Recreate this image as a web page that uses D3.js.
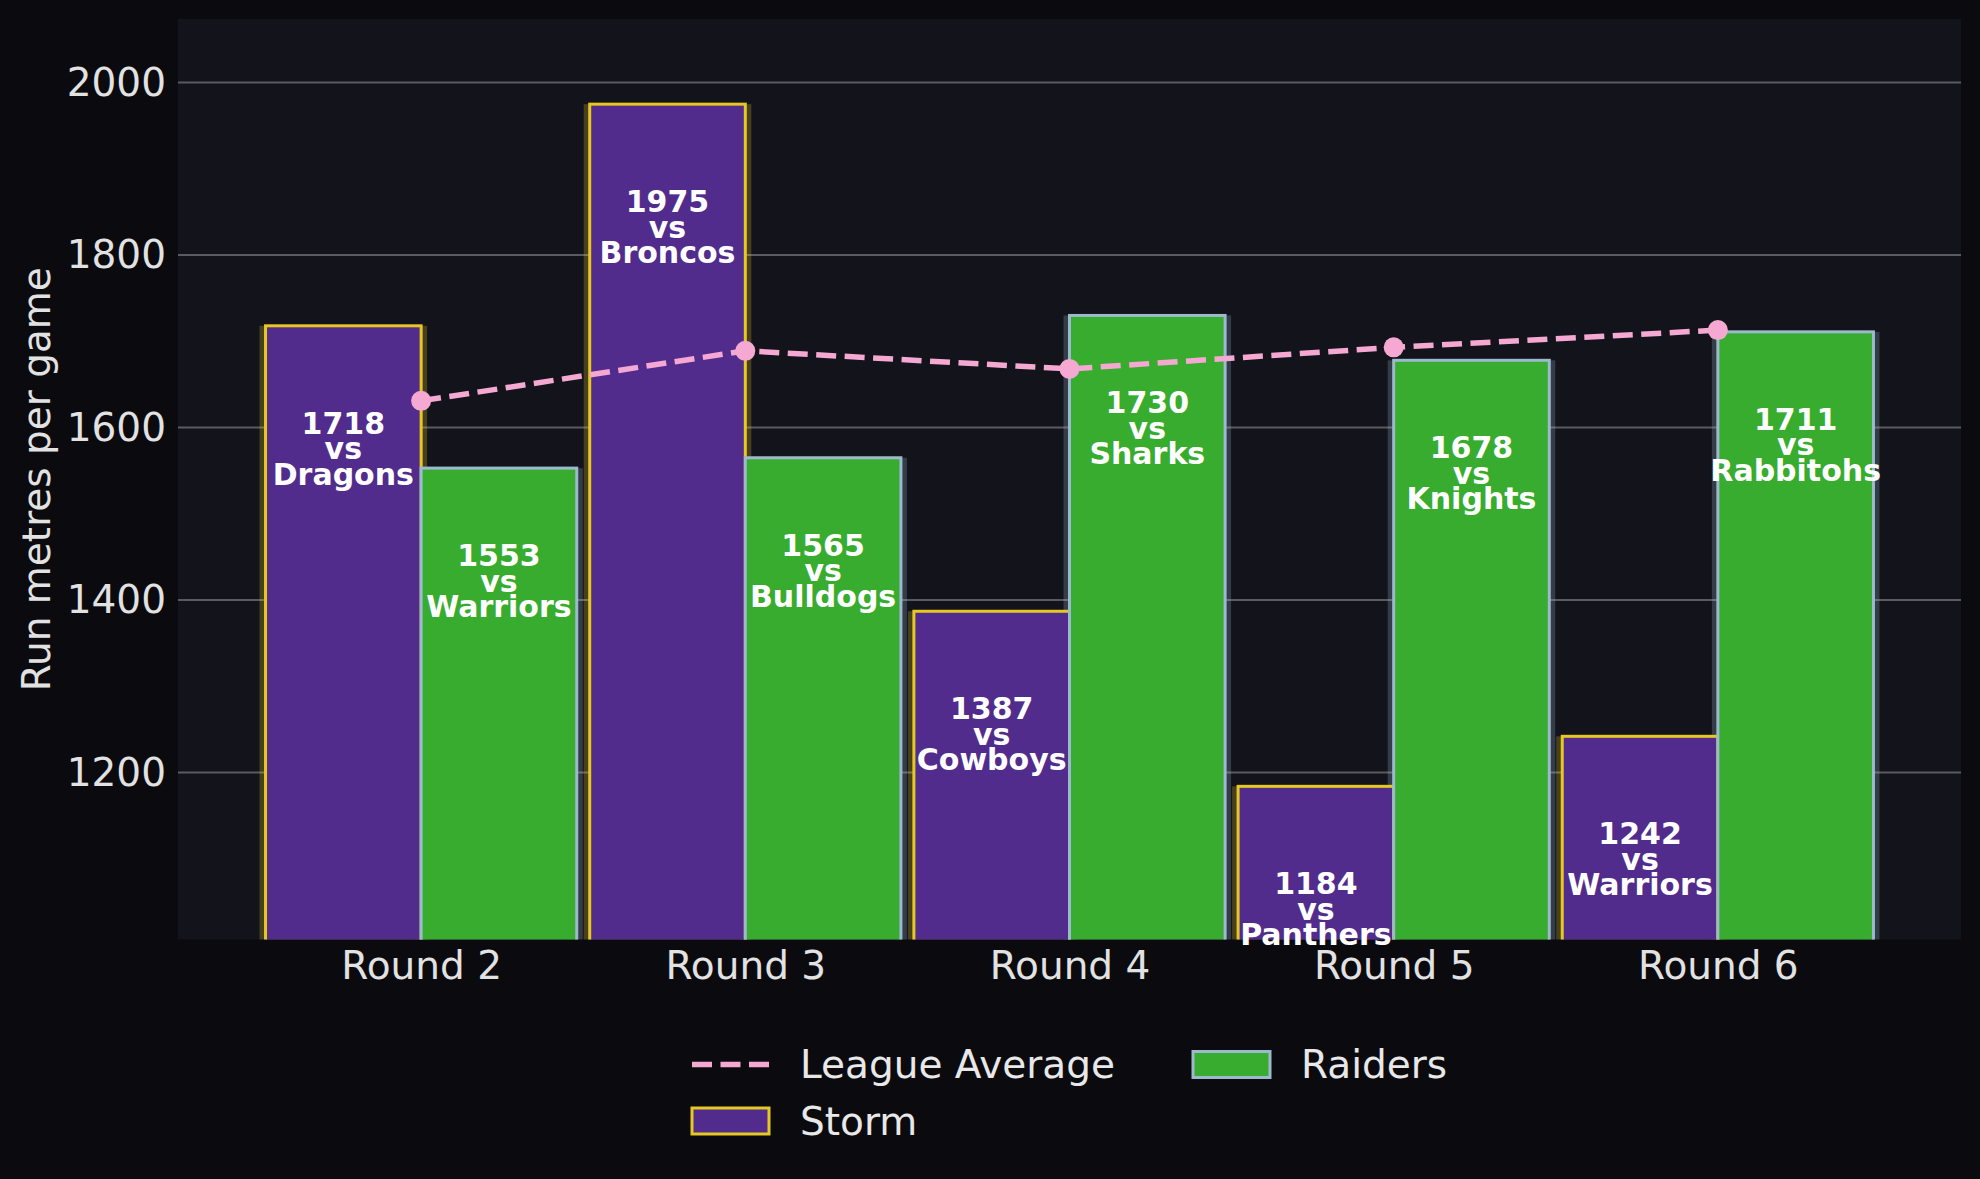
<!DOCTYPE html>
<html>
<head>
<meta charset="utf-8">
<script src="https://cdn.jsdelivr.net/npm/d3@7"></script>
<style>
  html, body { margin: 0; padding: 0; background: #0b0b0f; }
  svg { display: block; font-family: "DejaVu Sans", sans-serif; }
</style>
</head>
<body>
<svg id="chart" width="1980" height="1179"></svg>
<script>
const rounds = ["Round 2", "Round 3", "Round 4", "Round 5", "Round 6"];
const stormValues = [1718, 1975, 1387, 1184, 1242];
const raidersValues = [1553, 1565, 1730, 1678, 1711];
const stormOpponents = ["Dragons", "Broncos", "Cowboys", "Panthers", "Warriors"];
const raidersOpponents = ["Warriors", "Bulldogs", "Sharks", "Knights", "Rabbitohs"];
const leagueAverage = [1631, 1689, 1668, 1693, 1713];
const yTicks = [1200, 1400, 1600, 1800, 2000];

const W = 1980, H = 1179;
const margin = { left: 178, right: 19, top: 19, bottom: 239.5 };
const svg = d3.select("#chart");

svg.append("rect").attr("width", W).attr("height", H).attr("fill", "#0b0b0f");

const x = d3.scaleLinear().domain([-0.75, 4.75]).range([margin.left, W - margin.right]);
const y = d3.scaleLinear().domain([1006.4, 2073.75]).range([H - margin.bottom, margin.top]);
const unit = x(1) - x(0);
const barW = 0.48, shadowW = 0.517;

const storm = { name: "Storm", values: stormValues, opp: stormOpponents, fill: "#522c8c", edge: "#e6c823", off: -1, labelDy: 108 };
const raiders = { name: "Raiders", values: raidersValues, opp: raidersOpponents, fill: "#37ac2e", edge: "#9db9cd", off: 0, labelDy: 98 };
const series = [storm, raiders];

svg.append("clipPath").attr("id", "plotclip")
  .append("rect")
  .attr("x", margin.left).attr("y", margin.top)
  .attr("width", W - margin.left - margin.right)
  .attr("height", H - margin.top - margin.bottom);

// plot background
svg.append("rect")
  .attr("x", margin.left).attr("y", margin.top)
  .attr("width", W - margin.left - margin.right)
  .attr("height", H - margin.top - margin.bottom)
  .attr("fill", "#12131b");

const plot = svg.append("g").attr("clip-path", "url(#plotclip)");

// grid
plot.selectAll("line.grid").data(yTicks).enter().append("line")
  .attr("class", "grid")
  .attr("x1", margin.left).attr("x2", W - margin.right)
  .attr("y1", d => y(d)).attr("y2", d => y(d))
  .attr("stroke", "#5a5a60").attr("stroke-width", 2);

// shadows behind every bar
series.forEach(s => {
  plot.selectAll(null).data(s.values).enter().append("rect")
    .attr("x", (d, i) => x(i + s.off * barW + (barW - shadowW) / 2))
    .attr("y", d => y(d))
    .attr("width", shadowW * unit)
    .attr("height", d => y.range()[0] - y(d) + 5)
    .attr("fill", s.edge).attr("opacity", 0.25);
});

// bars
series.forEach(s => {
  plot.selectAll(null).data(s.values).enter().append("rect")
    .attr("x", (d, i) => x(i + s.off * barW))
    .attr("y", d => y(d))
    .attr("width", barW * unit)
    .attr("height", d => y.range()[0] - y(d) + 5)
    .attr("fill", s.fill)
    .attr("stroke", s.edge).attr("stroke-width", 3);
});

// league average line
const line = d3.line().x((d, i) => x(i)).y(d => y(d));
svg.append("path").datum(leagueAverage)
  .attr("d", line)
  .attr("fill", "none")
  .attr("stroke", "#f5a8d2").attr("stroke-width", 5.5)
  .attr("stroke-dasharray", "20,8.5");
svg.selectAll("circle.avg").data(leagueAverage).enter().append("circle")
  .attr("class", "avg")
  .attr("cx", (d, i) => x(i)).attr("cy", d => y(d)).attr("r", 10)
  .attr("fill", "#f5a8d2");

// bar labels
series.forEach(s => {
  const cx = i => x(i + s.off * barW + barW / 2);
  const g = svg.selectAll(null).data(s.values).enter().append("text")
    .attr("x", (d, i) => cx(i))
    .attr("y", d => y(d) + s.labelDy)
    .attr("text-anchor", "middle")
    .attr("fill", "#ffffff")
    .attr("font-weight", "bold")
    .attr("font-size", 30);
  g.append("tspan").text(d => d);
  g.append("tspan").attr("dy", 25.5).attr("x", (d, i) => cx(i)).text("vs");
  g.append("tspan").attr("dy", 25.5).attr("x", (d, i) => cx(i)).text((d, i) => s.opp[i]);
});

// y axis
const yAxis = d3.axisLeft(y).tickValues(yTicks).tickSize(0).tickPadding(12).tickFormat(d3.format("d"));
const gy = svg.append("g").attr("transform", `translate(${margin.left},0)`).call(yAxis);
gy.select(".domain").remove();
gy.selectAll("text").attr("font-size", 39).attr("fill", "#e2e2e2").attr("font-family", "DejaVu Sans");

// x axis
const xAxis = d3.axisBottom(x).tickValues(d3.range(rounds.length)).tickSize(0).tickPadding(12).tickFormat(i => rounds[i]);
const gx = svg.append("g").attr("transform", `translate(0,${H - margin.bottom})`).call(xAxis);
gx.select(".domain").remove();
gx.selectAll("text").attr("font-size", 39).attr("fill", "#e2e2e2").attr("font-family", "DejaVu Sans");

// y label
svg.append("text")
  .attr("transform", `translate(50,${(margin.top + H - margin.bottom) / 2}) rotate(-90)`)
  .attr("text-anchor", "middle")
  .attr("font-size", 39).attr("fill", "#e2e2e2")
  .text("Run metres per game");

// legend
const legend = svg.append("g").attr("font-size", 39).attr("fill", "#e8e8e8");
const items = [
  { label: "League Average", kind: "line", col: 0, row: 0 },
  { label: "Storm", kind: "bar", s: storm, col: 0, row: 1 },
  { label: "Raiders", kind: "bar", s: raiders, col: 1, row: 0 }
];
const colX = [692, 1193], rowY = [1064.5, 1121];
items.forEach(it => {
  const lx = colX[it.col], ly = rowY[it.row];
  if (it.kind === "line") {
    legend.append("line")
      .attr("x1", lx).attr("x2", lx + 77).attr("y1", ly).attr("y2", ly)
      .attr("stroke", "#f5a8d2").attr("stroke-width", 5.5)
      .attr("stroke-dasharray", "20,8.5");
  } else {
    legend.append("rect")
      .attr("x", lx).attr("y", ly - 13).attr("width", 77).attr("height", 26)
      .attr("fill", it.s.fill).attr("stroke", it.s.edge).attr("stroke-width", 3);
  }
  legend.append("text")
    .attr("x", lx + 108).attr("y", ly).attr("dy", "0.35em")
    .text(it.label);
});
</script>
</body>
</html>
